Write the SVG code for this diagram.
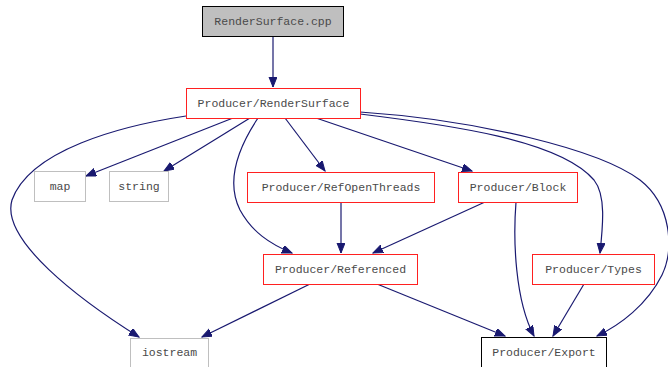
<svg xmlns="http://www.w3.org/2000/svg" width="668" height="367" viewBox="0 0 668 367">
  <style>
    .node rect { stroke-width: 1; }
    .root rect { fill: #bfbfbf; stroke: #000000; }
    .proj rect { fill: #ffffff; stroke: #ff2020; }
    .sys rect { fill: #ffffff; stroke: #bfbfbf; }
    .ext rect { fill: #ffffff; stroke: #000000; }
    .node text { font-family: "Liberation Mono", "DejaVu Sans Mono", monospace; font-size: 11.5px; fill: #4a4a4a; text-anchor: middle; dominant-baseline: central; }
    .edges path { fill: none; stroke: #191970; stroke-width: 1.2; marker-end: url(#arrow); }
  </style>
  <defs>
    <marker id="arrow" markerUnits="userSpaceOnUse" markerWidth="11" markerHeight="9" refX="10" refY="4" orient="auto">
      <path d="M0,0 L10,4 L0,8 Z" fill="#191970" stroke="#191970" stroke-width="1"/>
    </marker>
  </defs>
  <rect width="668" height="367" fill="#ffffff"/>

  <g class="edges" id="edges">
    <path d="M273,36 L273,87"/>
    <path d="M186,116 C120,126 30,150 12,200 C0,240 80,300 139,337"/>
    <path d="M233,118 L86,176"/>
    <path d="M250,118 L164,171"/>
    <path d="M258,118 C240,145 225,180 240,210 C252,232 270,244 292,253"/>
    <path d="M285,118 L325,171"/>
    <path d="M316,118 L472,171"/>
    <path d="M360,114 C450,125 560,140 594,180 C606,195 603,225 600,253"/>
    <path d="M360,112 C480,120 600,150 640,180 C672,205 674,250 662,275 C647,305 620,325 597,336"/>
    <path d="M341,202 L341,253"/>
    <path d="M485,202 L373,253"/>
    <path d="M516,202 C513,240 515,300 534,336"/>
    <path d="M584,284 L553,336"/>
    <path d="M377,284 L505,336"/>
    <path d="M310,284 L202,337"/>
  </g>

  <g class="node root" id="node-RenderSurface-cpp">
    <rect x="202.5" y="6.5" width="141" height="30"/>
    <text x="273" y="21.5">RenderSurface.cpp</text>
  </g>
  <g class="node proj" id="node-RenderSurface">
    <rect x="186.5" y="88.5" width="174" height="30"/>
    <text x="273.5" y="103.5">Producer/RenderSurface</text>
  </g>
  <g class="node sys" id="node-map">
    <rect x="34.5" y="171.5" width="51" height="30"/>
    <text x="60" y="186.5">map</text>
  </g>
  <g class="node sys" id="node-string">
    <rect x="109.5" y="171.5" width="59" height="30"/>
    <text x="139" y="186.5">string</text>
  </g>
  <g class="node proj" id="node-RefOpenThreads">
    <rect x="247.5" y="172.5" width="187" height="30"/>
    <text x="341" y="187.5">Producer/RefOpenThreads</text>
  </g>
  <g class="node proj" id="node-Block">
    <rect x="458.5" y="172.5" width="119" height="30"/>
    <text x="518" y="187.5">Producer/Block</text>
  </g>
  <g class="node proj" id="node-Referenced">
    <rect x="263.5" y="254.5" width="154" height="30"/>
    <text x="340.5" y="269.5">Producer/Referenced</text>
  </g>
  <g class="node proj" id="node-Types">
    <rect x="532.5" y="254.5" width="122" height="30"/>
    <text x="593.5" y="269.5">Producer/Types</text>
  </g>
  <g class="node sys" id="node-iostream">
    <rect x="130.5" y="338.5" width="78" height="30"/>
    <text x="169.5" y="352.5">iostream</text>
  </g>
  <g class="node ext" id="node-Export">
    <rect x="481.5" y="337.5" width="125" height="31"/>
    <text x="544" y="352">Producer/Export</text>
  </g>
</svg>
